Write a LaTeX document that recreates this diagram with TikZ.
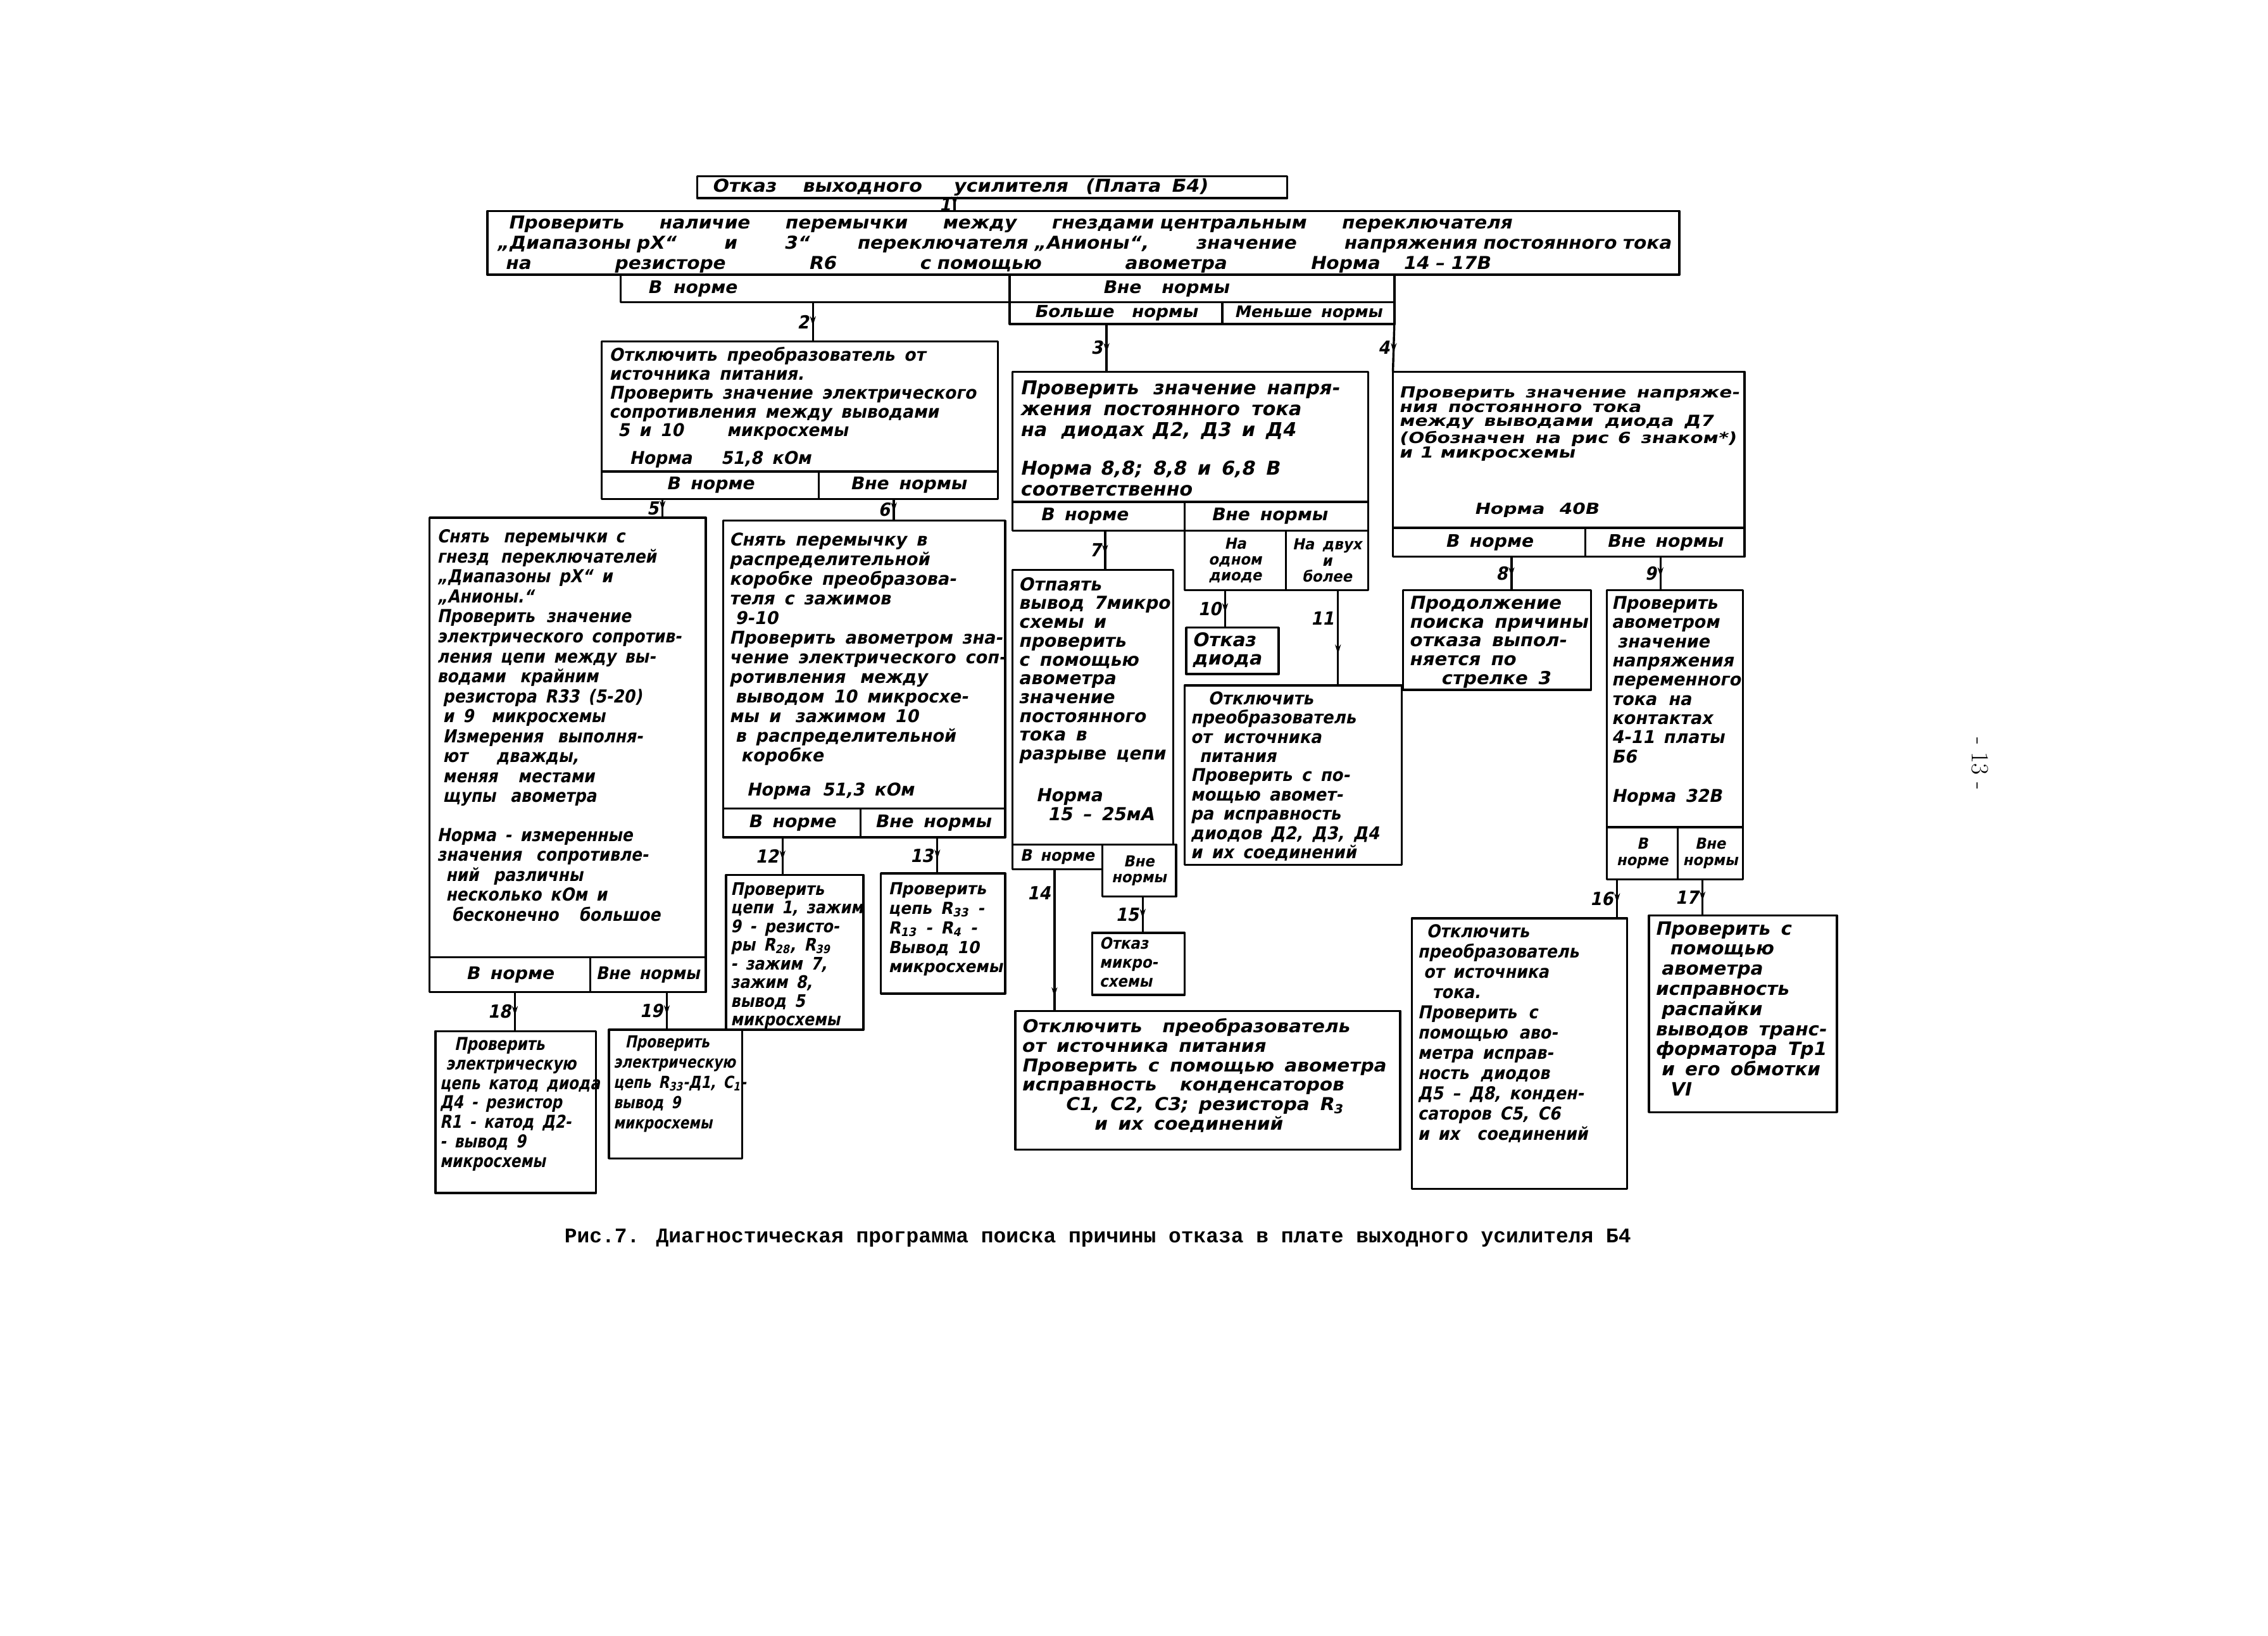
\documentclass[tikz,border=0pt]{standalone}
\usepackage{fontspec}
\usepackage{tikz}
\usetikzlibrary{arrows.meta,decorations.markings}
\newfontfamily\hand[FakeSlant=0.2,WordSpace=1.6]{DejaVu Sans Bold}
\newfontfamily\capfont{Liberation Mono}
\newcommand\hwfont[3]{\hand\addfontfeatures{FakeStretch=#3}\fontsize{#1}{#2}\selectfont}

\begin{document}
\begin{tikzpicture}[x=1pt,y=-1pt,>=Stealth,line join=round,
  box/.style 2 args={draw,line width=1.5pt,anchor=north west,inner sep=0pt,outer sep=0pt,
    minimum width=#1,minimum height=#2,align=center},
  txt/.style={anchor=north west,inner sep=0pt,align=left},
  cell/.style={font=\hwfont{12}{12}{1.03}},
  small/.style={font=\hwfont{10.5}{11}{0.95}},
  num/.style={font=\hwfont{12.5}{12}{0.92},inner sep=2pt},
  flow/.style={line width=1.5pt,postaction={decorate},
    decoration={markings,mark=at position #1 with {\arrow{Stealth[length=6.5pt,width=4pt]}}}},
  flow/.default=0.6]
  \fill[white] (0,0) rectangle (1568,1131);
  \useasboundingbox (0,0) rectangle (1568,1131);
  \coordinate (c1) at (660,0);
  \coordinate (c2) at (562,0);
  \coordinate (c3) at (765,0);
  \coordinate (c5) at (458,0);
  \coordinate (c6) at (618,0);
  \coordinate (c7) at (764,0);
  \coordinate (c8) at (1045,0);
  \coordinate (c9) at (1148,0);
  \coordinate (c10) at (847,0);
  \coordinate (c11) at (925,0);
  \coordinate (c12) at (541,0);
  \coordinate (c13) at (648,0);
  \coordinate (c14) at (729,0);
  \coordinate (c15) at (790,0);
  \coordinate (c16) at (1118,0);
  \coordinate (c17) at (1177,0);
  \coordinate (c18) at (356,0);
  \coordinate (c19) at (461,0);

  \node[box={408}{15}] (tt) at (482,122) {};
  \node[txt,anchor=west,font=\hwfont{12.3}{12}{1.07}] (ttx) at ([xshift=10pt]tt.west)
    {Отказ\hspace{18pt}выходного\hspace{22pt}усилителя\hspace{12pt}(Плата Б4)};

  \node[box={824}{44}] (m) at (337,146) {};
  \node[txt,text width=812pt,font=\hwfont{12.3}{14}{1.05}] (mx) at ([shift={(6,3)}]m.north west)
    {\hspace*{8pt}Проверить\hfill наличие\hfill перемычки\hfill между\hfill гнездами центральным\hfill переключателя\hspace{110pt}\null\\
     „Диапазоны рХ“\hfill и\hfill 3“\hfill переключателя „Анионы“,\hfill значение\hfill напряжения постоянного тока\\
     \hspace*{6pt}на\hfill резисторе\hfill R6\hfill с помощью\hfill авометра\hfill Норма\hspace{16pt}14 – 17В\hspace{125pt}\null};
  \node[box={269}{19},cell] (my) at (429,190) {В\hspace{8pt}норме\hspace{170pt}};
  \node[box={266}{19},cell] (mn) at (my.north east) {Вне\hspace{14pt}нормы\hspace{50pt}};
  \node[box={147}{15},font=\hwfont{11.5}{12}{1.05}] (mb) at (mn.south west) {Больше\hspace{12pt}нормы};
  \node[box={119}{15},font=\hwfont{11}{11}{1.02}] (ml) at (mb.north east) {Меньше нормы};

  \node[box={274}{90}] (b2) at (416,236) {};
  \node[txt,font=\hwfont{12.2}{13}{0.95}] (b2x) at ([shift={(5,4)}]b2.north west)
    {Отключить преобразователь от\\
     источника питания.\\
     Проверить значение электрического\\
     сопротивления между выводами\\
     \hspace*{6pt}5 и 10\hspace{30pt}микросхемы\\[6pt]
     \hspace*{14pt}Норма\hspace{20pt}51,8 кОм};
  \node[box={150}{19},cell] (b2y) at (b2.south west) {В норме};
  \node[box={124}{19},cell] (b2n) at (b2y.north east) {Вне нормы};

  \node[box={246}{90}] (b3) at (700,257) {};
  \node[txt,font=\hwfont{13.2}{14.5}{1.0}] (b3x) at ([shift={(5,6)}]b3.north west)
    {Проверить\hspace{10pt}значение напря-\\
     жения\hspace{8pt}постоянного\hspace{8pt}тока\\
     на\hspace{10pt}диодах\hspace{6pt}Д2, Д3 и Д4\\[12pt]
     Норма\hspace{6pt}8,8; 8,8 и 6,8 В\\
     соответственно};
  \node[box={119}{20},cell] (b3y) at (b3.south west) {В норме\hspace{20pt}};
  \node[box={127}{20},cell] (b3n) at (b3y.north east) {Вне нормы\hspace{10pt}};
  \node[box={70}{41},small] (b3a) at (b3n.south west) {На\\одном\\диоде};
  \node[box={57}{41},small] (b3b) at (b3a.north east) {На двух\\и\\более};

  \node[box={243}{108}] (b4) at (963,257) {};
  \node[txt,font=\hwfont{10.6}{10}{1.22}] (b4x) at ([shift={(4,10)}]b4.north west)
    {Проверить значение напряже-\\
     ния постоянного тока\\
     между выводами\hspace{8pt}диода Д7\\
     (Обозначен на рис\hspace{6pt}6 знаком*)\\
     и\hspace{5pt}1\hspace{5pt}микросхемы\\[28pt]
     \hspace*{52pt}Норма\hspace{10pt}40В};
  \node[box={133}{20},cell] (b4y) at (b4.south west) {В норме};
  \node[box={110}{20},cell] (b4n) at (b4y.north east) {Вне нормы};

  \node[box={191}{304}] (b5) at (297,358) {};
  \node[txt,font=\hwfont{12.4}{13.8}{0.88}] (b5x) at ([shift={(5,8)}]b5.north west)
    {Снять\hspace{10pt}перемычки с\\
     гнезд\hspace{8pt}переключателей\\
     „Диапазоны рХ“ и\\
     „Анионы.“\\
     Проверить\hspace{8pt}значение\\
     электрического сопротив-\\
     ления цепи между вы-\\
     водами\hspace{10pt}крайним\\
     \hspace*{4pt}резистора\hspace{6pt}R33 (5-20)\\
     \hspace*{4pt}и 9\hspace{12pt}микросхемы\\
     \hspace*{4pt}Измерения\hspace{10pt}выполня-\\
     \hspace*{4pt}ют\hspace{20pt}дважды,\\
     \hspace*{4pt}меняя\hspace{14pt}местами\\
     \hspace*{4pt}щупы\hspace{10pt}авометра\\[13pt]
     Норма - измеренные\\
     значения\hspace{10pt}сопротивле-\\
     \hspace*{6pt}ний\hspace{10pt}различны\\
     \hspace*{6pt}несколько кОм и\\
     \hspace*{10pt}бесконечно\hspace{14pt}большое};
  \node[box={111}{24},cell] (b5y) at (b5.south west) {В норме};
  \node[box={80}{24},font=\hwfont{12}{12}{0.92}] (b5n) at (b5y.north east) {Вне нормы};

  \node[box={195}{199}] (b6) at (500,360) {};
  \node[txt,font=\hwfont{12.2}{13.6}{0.97}] (b6x) at ([shift={(4,8)}]b6.north west)
    {Снять перемычку в\\
     распределительной\\
     коробке преобразова-\\
     теля с зажимов\\
     \hspace*{4pt}9-10\\
     Проверить авометром зна-\\
     чение электрического соп-\\
     ротивления\hspace{10pt}между\\
     \hspace*{4pt}выводом 10 микросхе-\\
     мы и\hspace{10pt}зажимом 10\\
     \hspace*{4pt}в распределительной\\
     \hspace*{8pt}коробке\\[10pt]
     \hspace*{12pt}Норма\hspace{8pt}51,3 кОм};
  \node[box={95}{20},cell] (b6y) at (b6.south west) {В норме};
  \node[box={100}{20},cell] (b6n) at (b6y.north east) {Вне нормы};

  \node[box={111}{190}] (b7) at (700,394) {};
  \node[txt,font=\hwfont{12.4}{13}{0.99}] (b7x) at ([shift={(4,5)}]b7.north west)
    {Отпаять\\
     вывод 7микро\\
     схемы и\\
     проверить\\
     с помощью\\
     авометра\\
     значение\\
     постоянного\\
     тока в\\
     разрыве цепи\\[16pt]
     \hspace*{12pt}Норма\\
     \hspace*{20pt}15 – 25мА};
  \node[box={62}{17},font=\hwfont{11}{11}{0.95}] (b7y) at (b7.south west) {В норме};
  \node[box={51}{36},small] (b7n) at (b7y.north east) {Вне\\нормы};

  \node[box={130}{69}] (b8) at (970,408) {};
  \node[txt,font=\hwfont{12.4}{13}{1.03}] (b8x) at ([shift={(4,4)}]b8.north west)
    {Продолжение\\
     поиска причины\\
     отказа выпол-\\
     няется по\\
     \hspace*{22pt}стрелке 3};

  \node[box={94}{164}] (b9) at (1111,408) {};
  \node[txt,font=\hwfont{12.2}{13.3}{0.97}] (b9x) at ([shift={(3,4)}]b9.north west)
    {Проверить\\
     авометром\\
     \hspace*{4pt}значение\\
     напряжения\\
     переменного\\
     тока\hspace{8pt}на\\
     контактах\\
     4-11\hspace{6pt}платы\\
     Б6\\[14pt]
     Норма 32В};
  \node[box={49}{36},small] (b9y) at (b9.south west) {В\\норме};
  \node[box={45}{36},small] (b9n) at (b9y.north east) {Вне\\нормы};

  \node[box={64}{32}] (b10) at (820,434) {};
  \node[txt,font=\hwfont{13}{13}{1.0}] (b10x) at ([shift={(4,3)}]b10.north west)
    {Отказ\\диода};

  \node[box={150}{124}] (b11) at (819,474) {};
  \node[txt,font=\hwfont{12.2}{13.3}{0.93}] (b11x) at ([shift={(4,4)}]b11.north west)
    {\hspace*{12pt}Отключить\\
     преобразователь\\
     от\hspace{8pt}источника\\
     \hspace*{6pt}питания\\
     Проверить с по-\\
     мощью авомет-\\
     ра исправность\\
     диодов\hspace{6pt}Д2, Д3, Д4\\
     и их соединений};

  \node[box={95}{107}] (b12) at (502,605) {};
  \node[txt,font=\hwfont{12}{12.9}{0.87}] (b12x) at ([shift={(3,5)}]b12.north west)
    {Проверить\\
     цепи 1, зажим\\
     9 - резисто-\\
     ры R\textsubscript{28}, R\textsubscript{39}\\
     - зажим 7,\\
     зажим 8,\\
     вывод 5\\
     микросхемы};

  \node[box={86}{83}] (b13) at (609,604) {};
  \node[txt,font=\hwfont{11.5}{13.5}{0.95}] (b13x) at ([shift={(5,6)}]b13.north west)
    {Проверить\\
     цепь R\textsubscript{33} -\\
     R\textsubscript{13} - R\textsubscript{4} -\\
     Вывод 10\\
     микросхемы};

  \node[box={64}{43}] (b15) at (755,645) {};
  \node[txt,font=\hwfont{11}{13}{0.91}] (b15x) at ([shift={(5,3)}]b15.north west)
    {Отказ\\микро-\\схемы};

  \node[box={266}{96}] (b14) at (702,699) {};
  \node[txt,font=\hwfont{12.3}{13.5}{1.05}] (b14x) at ([shift={(4,5)}]b14.north west)
    {Отключить\hspace{14pt}преобразователь\\
     от источника питания\\
     Проверить с помощью авометра\\
     исправность\hspace{16pt}конденсаторов\\
     \hspace*{30pt}C1, C2, C3; резистора R\textsubscript{3}\\
     \hspace*{50pt}и их соединений};

  \node[box={149}{187}] (b16) at (976,635) {};
  \node[txt,font=\hwfont{12.3}{14}{0.9}] (b16x) at ([shift={(4,4)}]b16.north west)
    {\hspace*{6pt}Отключить\\
     преобразователь\\
     \hspace*{4pt}от источника\\
     \hspace*{10pt}тока.\\
     Проверить\hspace{8pt}с\\
     помощью\hspace{8pt}аво-\\
     метра исправ-\\
     ность\hspace{8pt}диодов\\
     Д5 – Д8,\hspace{6pt}конден-\\
     саторов\hspace{6pt}C5, C6\\
     и их\hspace{12pt}соединений};

  \node[box={130}{136}] (b17) at (1140,633) {};
  \node[txt,font=\hwfont{12.7}{13.9}{1.01}] (b17x) at ([shift={(4,4)}]b17.north west)
    {Проверить с\\
     \hspace*{10pt}помощью\\
     \hspace*{4pt}авометра\\
     исправность\\
     \hspace*{4pt}распайки\\
     выводов транс-\\
     форматора Тр1\\
     \hspace*{4pt}и его обмотки\\
     \hspace*{10pt}VI};

  \node[box={111}{112}] (b18) at (301,713) {};
  \node[txt,font=\hwfont{12.3}{13.5}{0.82}] (b18x) at ([shift={(3,4)}]b18.north west)
    {\hspace*{10pt}Проверить\\
     \hspace*{4pt}электрическую\\
     цепь катод диода\\
     Д4 - резистор\\
     R1 - катод Д2-\\
     - вывод 9\\
     микросхемы};

  \node[box={92}{89}] (b19) at (421,712) {};
  \node[txt,font=\hwfont{11.5}{14}{0.82}] (b19x) at ([shift={(3,4)}]b19.north west)
    {\hspace*{8pt}Проверить\\
     электрическую\\
     цепь R\textsubscript{33}-Д1, C\textsubscript{1}-\\
     вывод 9\\
     микросхемы};

  \draw[flow] (tt.south -| c1) -- node[num,left,pos=0.5]{1} (m.north -| c1);
  \draw[flow] (my.south -| c2) -- node[num,left]{2} (b2.north -| c2);
  \draw[flow] (mb.south -| c3) -- node[num,left]{3} (b3.north -| c3);
  \draw[flow] (ml.south east) -- node[num,left]{4} (b4.north west);
  \draw[flow] (b2y.south -| c5) -- node[num,left]{5} (b5.north -| c5);
  \draw[flow] (b2n.south -| c6) -- node[num,left]{6} (b6.north -| c6);
  \draw[flow] (b3y.south -| c7) -- node[num,left]{7} (b7.north -| c7);
  \draw[flow] (b4y.south -| c8) -- node[num,left]{8} (b8.north -| c8);
  \draw[flow] (b4n.south -| c9) -- node[num,left]{9} (b9.north -| c9);
  \draw[flow] (b3a.south -| c10) -- node[num,left]{10} (b10.north -| c10);
  \draw[flow=0.67] (b3b.south -| c11) -- node[num,left,pos=0.3]{11} (b11.north -| c11);
  \draw[flow] (b6y.south -| c12) -- node[num,left]{12} (b12.north -| c12);
  \draw[flow] (b6n.south -| c13) -- node[num,left]{13} (b13.north -| c13);
  \draw[flow=0.9] (b7y.south -| c14) -- node[num,left,pos=0.17]{14} (b14.north -| c14);
  \draw[flow] (b7n.south -| c15) -- node[num,left]{15} (b15.north -| c15);
  \draw[flow] (b9y.south -| c16) -- node[num,left]{16} (b16.north -| c16);
  \draw[flow] (b9n.south -| c17) -- node[num,left]{17} (b17.north -| c17);
  \draw[flow] (b5y.south -| c18) -- node[num,left]{18} (b18.north -| c18);
  \draw[flow] (b5n.south -| c19) -- node[num,left]{19} (b19.north -| c19);

  \node[font=\capfont\bfseries\fontsize{14.4}{16}\selectfont] (cap) at (759,856)
    {Рис.7. Диагностическая программа поиска причины отказа в плате выходного усилителя Б4};
  \node[rotate=-90,font=\fontsize{17}{17}\selectfont] (pg) at (1369,528) {- 13 -};
\end{tikzpicture}
\end{document}
